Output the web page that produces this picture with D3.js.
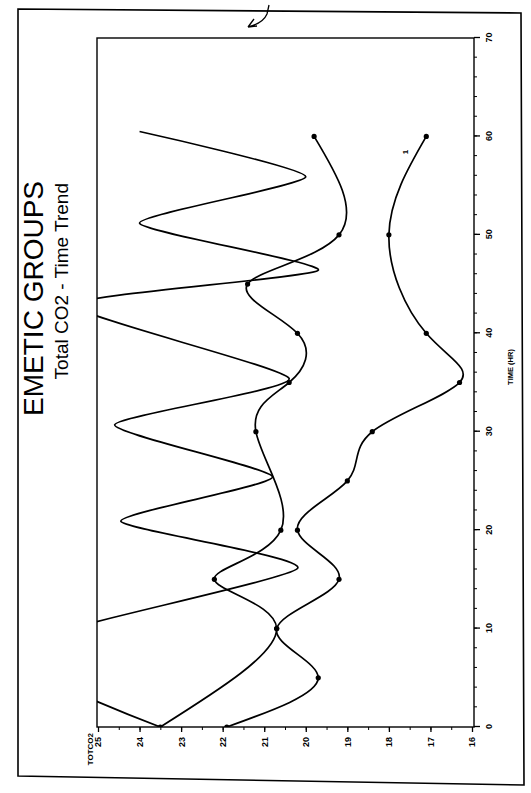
<!DOCTYPE html>
<html>
<head>
<meta charset="utf-8">
<script src="https://cdn.jsdelivr.net/npm/d3@7"></script>
<style>
  html, body { margin: 0; padding: 0; background: #fff; }
  svg { display: block; }
  text { font-family: "Liberation Sans", Arial, Helvetica, sans-serif; fill: #000; }
</style>
</head>
<body>
<svg id="chart" width="531" height="793"></svg>
<script>
// Tick values for both axes
const timeTicks = [0, 10, 20, 30, 40, 50, 60, 70];
const co2Ticks = [25, 24, 23, 22, 21, 20, 19, 18, 17, 16];

// Group 1: sampling times (hr) and total CO2
const group1Time = [0, 5, 10, 15, 20, 25, 30, 35, 40, 50, 60];
const group1CO2  = [21.9, 19.7, 20.7, 19.2, 20.2, 19.0, 18.4, 16.3, 17.1, 18.0, 17.1];

// Group 2
const group2Time = [0, 10, 15, 20, 30, 35, 40, 45, 50, 60];
const group2CO2  = [23.5, 20.7, 22.2, 20.6, 21.2, 20.4, 20.2, 21.4, 19.2, 19.8];

// Group 3 (oscillating trace, turning points)
const group3Time = [0, 7.9, 16.1, 20.9, 25.4, 30.7, 35.4, 42.9, 46.4, 51.2, 55.9, 60.5];
const group3CO2  = [23.5, 27.2, 20.2, 24.45, 20.8, 24.6, 20.4, 25.6, 19.7, 24.0, 20.0, 24.0];

const W = 531, H = 793;
const svg = d3.select("#chart");

// Page border
svg.append("path")
  .attr("d", "M18,9 L521,13 L524,785 L18,776 Z")
  .attr("fill", "none").attr("stroke", "#000").attr("stroke-width", 1.6);

// small handwritten mark on the top edge
svg.append("path")
  .attr("d", "M248,27 C256,25 264,21 267,14 L269,5 M248,27 L254,19 M248,27 L257,26")
  .attr("fill", "none").attr("stroke", "#000").attr("stroke-width", 1.3);

// The chart is laid out sideways: local x = time (runs up the page), local y runs to the right
const g = svg.append("g").attr("transform", `translate(0,${H}) rotate(-90)`);

const x = d3.scaleLinear().domain([0, 70]).range([66, 755]);
const y = d3.scaleLinear().domain([25, 16]).range([98, 472]);

const plotLeft = 66, plotRight = 755, plotTop = 97, plotBottom = 474;

// Titles
g.append("text").attr("x", 612).attr("y", 43)
  .attr("text-anchor", "end").attr("font-size", 28).text("EMETIC GROUPS");
g.append("text").attr("x", 610).attr("y", 68)
  .attr("text-anchor", "end").attr("font-size", 19).text("Total CO2 - Time Trend");

// Plot frame
g.append("rect")
  .attr("x", plotLeft).attr("y", plotTop)
  .attr("width", plotRight - plotLeft).attr("height", plotBottom - plotTop)
  .attr("fill", "none").attr("stroke", "#000").attr("stroke-width", 1.4);

// Time axis
const minorTime = d3.range(0, 70.01, 2);
g.append("g").attr("transform", `translate(0,${plotBottom})`)
  .call(d3.axisBottom(x).tickValues(minorTime).tickSize(3).tickFormat(""))
  .call(a => a.select(".domain").remove());
const tAxis = g.append("g").attr("transform", `translate(0,${plotBottom})`)
  .call(d3.axisBottom(x).tickValues(timeTicks).tickSize(6).tickPadding(6).tickFormat(d3.format("d")))
  .call(a => a.select(".domain").remove());
tAxis.selectAll("line").attr("stroke-width", 1.3);
tAxis.selectAll("text").attr("font-size", 9).attr("font-weight", "bold");

g.append("text").attr("x", 426).attr("y", 513)
  .attr("text-anchor", "middle").attr("font-size", 7.5).attr("font-weight", "bold")
  .text("TIME (HR)");

// CO2 axis
const minorCO2 = d3.range(16, 25.01, 0.5);
g.append("g").attr("transform", `translate(${plotLeft},0)`)
  .call(d3.axisLeft(y).tickValues(minorCO2).tickSize(3).tickFormat(""))
  .call(a => a.select(".domain").remove());
const vAxis = g.append("g").attr("transform", `translate(${plotLeft},0)`)
  .call(d3.axisLeft(y).tickValues(co2Ticks).tickSize(5).tickPadding(5).tickFormat(d3.format("d")))
  .call(a => a.select(".domain").remove());
vAxis.selectAll("line").attr("stroke-width", 1.3);
vAxis.selectAll("text").attr("font-size", 9).attr("font-weight", "bold");

g.append("text").attr("x", 60).attr("y", 93)
  .attr("text-anchor", "end").attr("font-size", 8).attr("font-weight", "bold")
  .text("TOTCO2");

// Curves
g.append("clipPath").attr("id", "plotClip")
  .append("rect").attr("x", plotLeft).attr("y", plotTop)
  .attr("width", plotRight - plotLeft).attr("height", plotBottom - plotTop);

const curves = g.append("g").attr("clip-path", "url(#plotClip)");

function drawSeries(times, values, curve, withMarkers) {
  const pts = times.map((t, i) => [t, values[i]]);
  const line = d3.line().x(d => x(d[0])).y(d => y(d[1])).curve(curve);
  curves.append("path").datum(pts).attr("d", line)
    .attr("fill", "none").attr("stroke", "#000").attr("stroke-width", 1.7)
    .attr("stroke-linejoin", "round");
  if (withMarkers) {
    curves.selectAll(null).data(pts).enter().append("circle")
      .attr("cx", d => x(d[0])).attr("cy", d => y(d[1])).attr("r", 2.6)
      .attr("fill", "#000");
  }
}

drawSeries(group1Time, group1CO2, d3.curveNatural, true);
drawSeries(group2Time, group2CO2, d3.curveNatural, true);
drawSeries(group3Time, group3CO2, d3.curveCardinal.tension(0.45), false);

// group label beside the end of group 1
g.append("text").attr("x", x(58.2)).attr("y", y(17.55))
  .attr("font-size", 8).attr("font-weight", "bold").text("1");
</script>
</body>
</html>
